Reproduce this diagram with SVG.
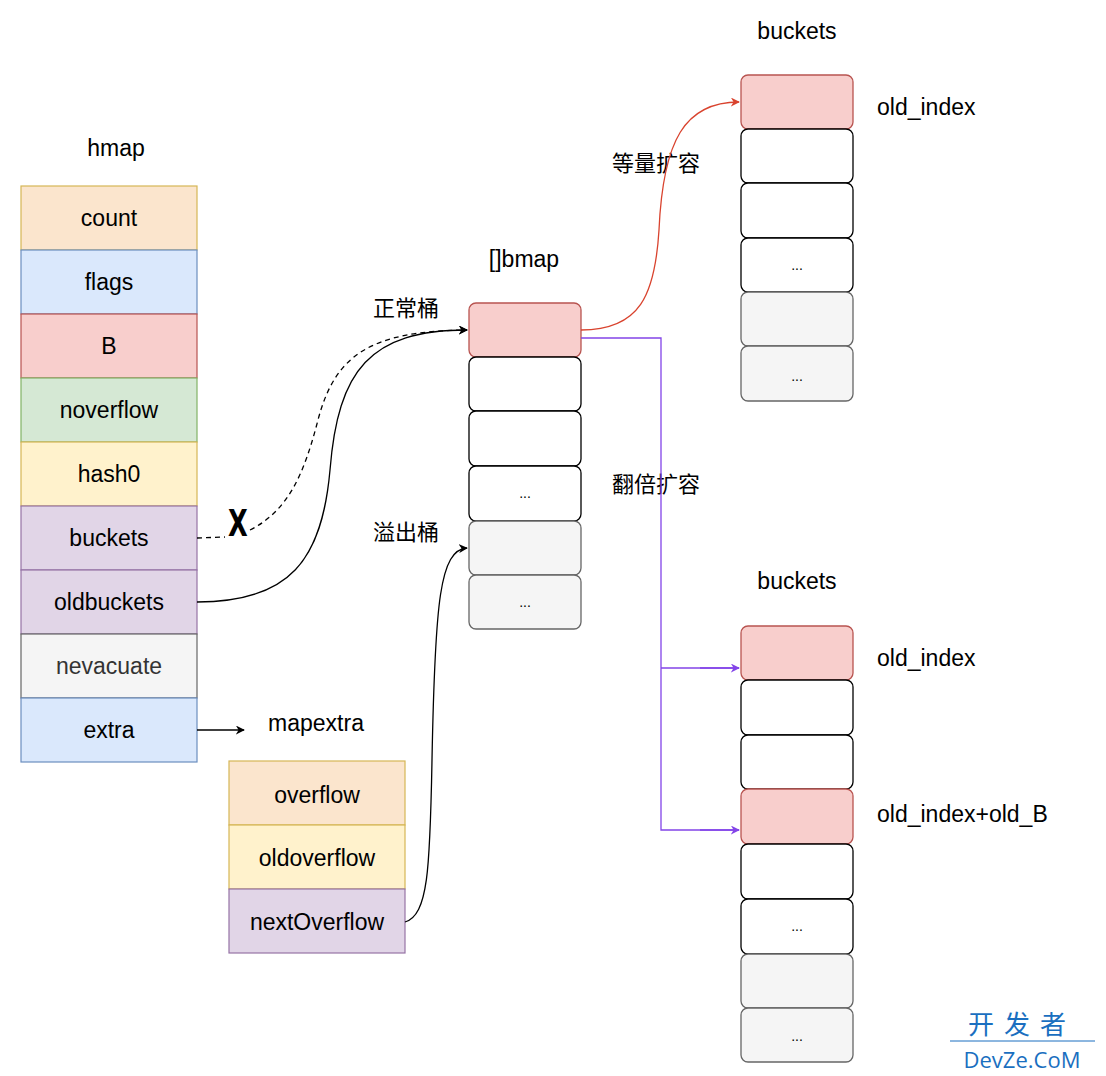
<svg xmlns="http://www.w3.org/2000/svg" width="1106" height="1076" viewBox="0 0 1106 1076">
<style>
text{font-family:"Liberation Sans","Noto Sans CJK SC",sans-serif;font-size:23px;fill:#000;text-anchor:middle;dominant-baseline:central}
.l{text-anchor:start}
.cjk{font-family:"Noto Sans CJK SC",sans-serif;font-size:22px}
.dots{font-size:14px;fill:#000}
.c{stroke-width:1.2}
.or{fill:#fbe5cd;stroke:#d6b656}
.bl{fill:#dae8fc;stroke:#6c8ebf}
.rd{fill:#f8cecc;stroke:#b85450}
.gr{fill:#d5e8d4;stroke:#82b366}
.ye{fill:#fff2cc;stroke:#d6b656}
.pu{fill:#e1d5e7;stroke:#9673a6}
.gy{fill:#f5f5f5;stroke:#666666}
.wh{fill:#ffffff;stroke:#000000}
.b{stroke-width:1.3}
.ln{fill:none;stroke:#000;stroke-width:1.3}
</style>
<defs>
<marker id="ab" viewBox="0 0 10 10" refX="9" refY="5" markerWidth="9" markerHeight="9" orient="auto" markerUnits="userSpaceOnUse"><path d="M0,0 L10,5 L0,10 L3,5 Z" fill="#000"/></marker>
<marker id="ar" viewBox="0 0 10 10" refX="9" refY="5" markerWidth="9" markerHeight="9" orient="auto" markerUnits="userSpaceOnUse"><path d="M0,0 L10,5 L0,10 L3,5 Z" fill="#d9432e"/></marker>
<marker id="ap" viewBox="0 0 10 10" refX="9" refY="5" markerWidth="9" markerHeight="9" orient="auto" markerUnits="userSpaceOnUse"><path d="M0,0 L10,5 L0,10 L3,5 Z" fill="#8344e8"/></marker>
</defs>

<g id="hmap">
<text x="116" y="148">hmap</text>
<rect class="or c" x="21" y="186" width="176" height="64"/><text x="109" y="218">count</text>
<rect class="bl c" x="21" y="250" width="176" height="64"/><text x="109" y="282">flags</text>
<rect class="rd c" x="21" y="314" width="176" height="64"/><text x="109" y="346">B</text>
<rect class="gr c" x="21" y="378" width="176" height="64"/><text x="109" y="410">noverflow</text>
<rect class="ye c" x="21" y="442" width="176" height="64"/><text x="109" y="474">hash0</text>
<rect class="pu c" x="21" y="506" width="176" height="64"/><text x="109" y="538">buckets</text>
<rect class="pu c" x="21" y="570" width="176" height="64"/><text x="109" y="602">oldbuckets</text>
<rect class="gy c" x="21" y="634" width="176" height="64"/><text x="109" y="666" style="fill:#333">nevacuate</text>
<rect class="bl c" x="21" y="698" width="176" height="64"/><text x="109" y="730">extra</text>
</g>

<g id="mapextra">
<text x="316" y="723">mapextra</text>
<rect class="or c" x="229" y="761" width="176" height="64"/><text x="317" y="795">overflow</text>
<rect class="ye c" x="229" y="825" width="176" height="64"/><text x="317" y="858">oldoverflow</text>
<rect class="pu c" x="229" y="889" width="176" height="64"/><text x="317" y="922">nextOverflow</text>
</g>

<g id="bmap">
<text x="524" y="259">[]bmap</text>
<rect class="rd b" x="469" y="303" width="112" height="54" rx="7"/>
<rect class="wh b" x="469" y="357" width="112" height="54" rx="7"/>
<rect class="wh b" x="469" y="411" width="112" height="55" rx="7"/>
<rect class="wh b" x="469" y="466" width="112" height="55" rx="7"/><text class="dots" x="525" y="493">...</text>
<rect class="gy b" x="469" y="521" width="112" height="54" rx="7"/>
<rect class="gy b" x="469" y="575" width="112" height="54" rx="7"/><text class="dots" x="525" y="602">...</text>
</g>

<g id="buckets-top">
<text x="797" y="31">buckets</text>
<rect class="rd b" x="741" y="75" width="112" height="54" rx="7"/>
<rect class="wh b" x="741" y="129" width="112" height="54" rx="7"/>
<rect class="wh b" x="741" y="183" width="112" height="55" rx="7"/>
<rect class="wh b" x="741" y="238" width="112" height="54" rx="7"/><text class="dots" x="797" y="265">...</text>
<rect class="gy b" x="741" y="292" width="112" height="54" rx="7"/>
<rect class="gy b" x="741" y="346" width="112" height="55" rx="7"/><text class="dots" x="797" y="376">...</text>
<text class="l" x="877" y="107">old_index</text>
</g>

<g id="buckets-bottom">
<text x="797" y="581">buckets</text>
<rect class="rd b" x="741" y="626" width="112" height="54" rx="7"/>
<rect class="wh b" x="741" y="680" width="112" height="55" rx="7"/>
<rect class="wh b" x="741" y="735" width="112" height="54" rx="7"/>
<rect class="rd b" x="741" y="789" width="112" height="55" rx="7"/>
<rect class="wh b" x="741" y="844" width="112" height="55" rx="7"/>
<rect class="wh b" x="741" y="899" width="112" height="55" rx="7"/><text class="dots" x="797" y="926">...</text>
<rect class="gy b" x="741" y="954" width="112" height="54" rx="7"/>
<rect class="gy b" x="741" y="1008" width="112" height="54" rx="7"/><text class="dots" x="797" y="1036">...</text>
<text class="l" x="877" y="658">old_index</text>
<text class="l" x="877" y="814">old_index+old_B</text>
</g>

<g id="labels">
<text class="cjk" x="406" y="306">正常桶</text>
<text class="cjk" x="406" y="530">溢出桶</text>
<text class="cjk" x="656" y="161">等量扩容</text>
<text class="cjk" x="656" y="482">翻倍扩容</text>
</g>

<g id="connectors">
<path class="ln" d="M197,538 L225,537 M250,530 C290,510 305,470 318,420 C335,355 370,331 467,330" stroke-dasharray="5,4" marker-end="url(#ab)"/>
<path class="ln" d="M197,602 C290,602 322,560 330,470 C338,370 370,330 467,330" marker-end="url(#ab)"/>
<path class="ln" d="M197,730 L244,730" marker-end="url(#ab)"/>
<path class="ln" d="M405,922 C428,915 430,870 432,760 C435,600 440,550 467,548" marker-end="url(#ab)"/>
<path d="M581,330 C640,330 655,295 659,230 C663,140 685,102 739,102" fill="none" stroke="#d9432e" stroke-width="1.3" marker-end="url(#ar)"/>
<path d="M581,338 L661,338 L661,830 L739,830 M661,668 L739,668" fill="none" stroke="#8344e8" stroke-width="1.3"/>
<path d="M700,668 L739,668" fill="none" stroke="#8344e8" stroke-width="1.3" marker-end="url(#ap)"/>
<path d="M700,830 L739,830" fill="none" stroke="#8344e8" stroke-width="1.3" marker-end="url(#ap)"/>
<text x="238" y="523" style="font-family:'Liberation Sans Narrow','DejaVu Sans Condensed',sans-serif;font-weight:bold;font-size:38px;transform-origin:238px 523px;transform:scaleX(0.75)">X</text>
</g>

<g id="watermark">
<text x="1022" y="1022" style="fill:#1a6fc0;font-family:'Noto Sans CJK SC',sans-serif;font-size:26px;letter-spacing:10px">开发者</text>
<line x1="950" y1="1041" x2="1095" y2="1041" stroke="#1a6fc0" stroke-width="1"/>
<text x="1022" y="1059" style="fill:#1a6fc0;font-family:'Open Sans',sans-serif;font-size:22px">DevZe.CoM</text>
</g>
</svg>
